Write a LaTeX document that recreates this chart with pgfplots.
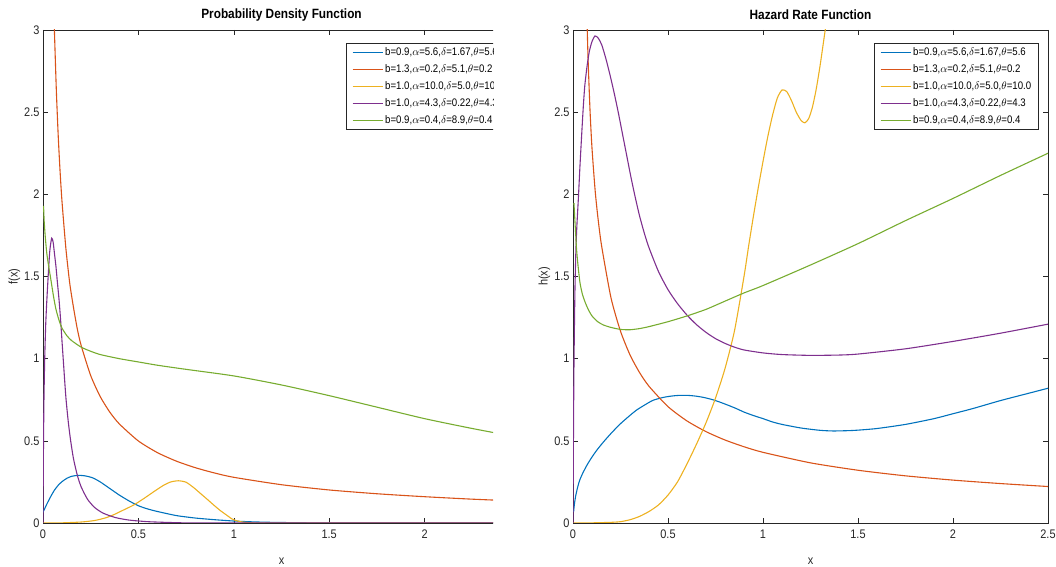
\documentclass[border=0pt]{standalone}
\usepackage{fontspec}
\setmainfont{Liberation Sans}[FakeStretch=0.88]
\usepackage{pgfplots}
\pgfplotsset{compat=1.18}

\definecolor{mblue}{rgb}{0,0.447,0.741}
\definecolor{morange}{rgb}{0.85,0.325,0.098}
\definecolor{myellow}{rgb}{0.929,0.694,0.125}
\definecolor{mpurple}{rgb}{0.494,0.184,0.556}
\definecolor{mgreen}{rgb}{0.466,0.674,0.188}
\definecolor{axgray}{rgb}{0.15,0.15,0.15}

\pgfplotsset{
  panel/.style={
    scale only axis, height=493bp,
    xmin=0, xmax=2.5, ymin=0, ymax=3,
    xtick={0,0.5,1,1.5,2,2.5}, xticklabels={0,0.5,1,1.5,2,2.5},
    ytick={0,0.5,1,1.5,2,2.5,3}, yticklabels={0,0.5,1,1.5,2,2.5,3},
    tick align=inside, major tick length=5bp,
    axis line style={axgray, line width=0.6pt},
    every tick/.style={axgray, line width=0.6pt},
    tick label style={font=\fontsize{12.5}{14}\selectfont, text=axgray},
    xticklabel style={yshift=-3bp},
    every axis title shift=0pt,
    title style={font=\bfseries\fontsize{13.5}{15}\selectfont, text=black,
                 at={(axis description cs:0.5,1.031)}, anchor=center},
    xlabel style={font=\fontsize{12.5}{14}\selectfont, text=axgray,
                  at={(axis description cs:0.5,-0.077)}, anchor=center},
    ylabel style={font=\fontsize{12.5}{14}\selectfont, text=axgray,
                  at={(axis description cs:-0.060,0.5)}, anchor=center},
    legend style={at={(0.981,0.9736)}, anchor=north east, draw=axgray,
                  line width=0.6pt, font=\fontsize{11}{13}\selectfont,
                  cells={anchor=west}, row sep=3.6pt, inner xsep=5.5pt, inner ysep=2.5pt},
    legend image code/.code={\draw[#1,line width=1.1pt] (0bp,0bp) -- (30bp,0bp);},
    every axis plot/.append style={line width=1.1pt, mark=none, smooth, tension=0.4},
  }
}

\begin{document}
\begin{tikzpicture}
\useasboundingbox (0,0) rectangle (1056bp,567bp);

% ---------- density ----------
\begin{scope}
\clip (0,0) rectangle (493bp,567bp);
\begin{axis}[panel, at={(43bp,44bp)}, anchor=south west, width=477bp,
  title={Probability Density Function}, xlabel={x}, ylabel={f(x)}]
\addplot[mblue] coordinates {
 (0,0.065) (0.01,0.09) (0.02,0.115) (0.04,0.16) (0.06,0.2) (0.08,0.23) (0.1,0.252)
 (0.125,0.272) (0.15,0.284) (0.185,0.29) (0.22,0.287) (0.26,0.275) (0.3,0.25)
 (0.35,0.21) (0.4,0.17) (0.45,0.135) (0.5,0.105) (0.55,0.085) (0.6,0.07) (0.7,0.045)
 (0.8,0.03) (0.9,0.02) (1.0,0.012) (1.1,0.007) (1.2,0.004) (1.4,0.001) (1.6,0) (2.5,0)};
\addlegendentry{b=0.9,$\alpha$=5.6,$\delta$=1.67,$\theta$=5.6}
\addplot[morange] coordinates {
 (0.058,3.08) (0.06,2.99) (0.07,2.63) (0.08,2.35) (0.09,2.13) (0.1,1.95) (0.12,1.67)
 (0.14,1.46) (0.16,1.31) (0.18,1.18) (0.2,1.08) (0.25,0.897) (0.3,0.769) (0.35,0.675)
 (0.4,0.603) (0.5,0.499) (0.6,0.428) (0.7,0.376) (0.8,0.336) (0.9,0.304) (1.0,0.278)
 (1.25,0.233) (1.5,0.201) (1.75,0.178) (2.0,0.16) (2.25,0.145) (2.5,0.133)};
\addlegendentry{b=1.3,$\alpha$=0.2,$\delta$=5.1,$\theta$=0.2}
\addplot[myellow] coordinates {
 (0,0) (0.1,0.001) (0.2,0.006) (0.27,0.015) (0.33,0.032) (0.37,0.05) (0.42,0.078)
 (0.476,0.11) (0.53,0.15) (0.58,0.19) (0.63,0.228) (0.67,0.25) (0.71,0.257) (0.75,0.248)
 (0.79,0.215) (0.825,0.18) (0.86,0.145) (0.894,0.11) (0.93,0.075) (0.96,0.05)
 (0.99,0.025) (1.01,0.015) (1.04,0.007) (1.07,0.003) (1.12,0.0005) (1.2,0) (2.5,0)};
\addlegendentry{b=1.0,$\alpha$=10.0,$\delta$=5.0,$\theta$=10.0}
\addplot[mpurple] coordinates {
 (0,0) (0.002,0.4) (0.005,0.75) (0.009,1.0) (0.014,1.2) (0.019,1.33) (0.028,1.52)
 (0.036,1.66) (0.0455,1.733) (0.053,1.71) (0.06,1.64) (0.068,1.56) (0.075,1.47)
 (0.084,1.36) (0.092,1.24) (0.1,1.1) (0.107,0.98) (0.114,0.86) (0.121,0.75)
 (0.133,0.61) (0.145,0.5) (0.16,0.39) (0.18,0.29) (0.2,0.22) (0.233,0.145)
 (0.27,0.095) (0.315,0.06) (0.38,0.033) (0.45,0.018) (0.55,0.008) (0.7,0.002)
 (0.9,0) (2.5,0)};
\addlegendentry{b=1.0,$\alpha$=4.3,$\delta$=0.22,$\theta$=4.3}
\addplot[mgreen] coordinates {
 (0.003,1.93) (0.006,1.84) (0.012,1.74) (0.02,1.64) (0.03,1.56) (0.04,1.49)
 (0.055,1.38) (0.068,1.30) (0.085,1.23) (0.1,1.185) (0.125,1.14) (0.15,1.11)
 (0.2,1.07) (0.25,1.045) (0.3,1.025) (0.4,1.0) (0.5,0.98) (0.6,0.96) (0.75,0.935)
 (1.0,0.895) (1.25,0.84) (1.5,0.775) (1.75,0.705) (2.0,0.635) (2.25,0.575) (2.5,0.52)};
\addlegendentry{b=0.9,$\alpha$=0.4,$\delta$=8.9,$\theta$=0.4}
\end{axis}
\end{scope}

% ---------- hazard rate ----------
\begin{axis}[panel, at={(573bp,44bp)}, anchor=south west, width=475bp,
  title={Hazard Rate Function}, xlabel={x}, ylabel={h(x)}]
\addplot[mblue] coordinates {
 (0.003,0.067) (0.008,0.12) (0.015,0.17) (0.025,0.22) (0.035,0.26) (0.05,0.3)
 (0.07,0.345) (0.088,0.38) (0.12,0.435) (0.158,0.49) (0.2,0.545) (0.246,0.6)
 (0.29,0.645) (0.333,0.686) (0.38,0.72) (0.42,0.746) (0.47,0.763) (0.509,0.771)
 (0.55,0.776) (0.596,0.777) (0.64,0.773) (0.684,0.765) (0.73,0.752) (0.772,0.736)
 (0.82,0.715) (0.86,0.696) (0.9,0.675) (0.947,0.655) (1.0,0.635) (1.05,0.615)
 (1.1,0.6) (1.2,0.578) (1.3,0.564) (1.37,0.56) (1.45,0.562) (1.5,0.565) (1.6,0.575)
 (1.75,0.6) (1.9,0.635) (2.0,0.665) (2.1,0.695) (2.25,0.745) (2.4,0.79) (2.5,0.82)};
\addlegendentry{b=0.9,$\alpha$=5.6,$\delta$=1.67,$\theta$=5.6}
\addplot[morange] coordinates {
 (0.073,3.08) (0.075,3.0) (0.08,2.8) (0.09,2.5) (0.1,2.28) (0.116,2.03) (0.13,1.87)
 (0.15,1.69) (0.2,1.37) (0.25,1.167) (0.3,1.023) (0.35,0.916) (0.4,0.832) (0.5,0.708)
 (0.6,0.621) (0.7,0.556) (0.8,0.505) (0.9,0.464) (1.0,0.43) (1.25,0.366) (1.5,0.321)
 (1.75,0.287) (2.0,0.261) (2.25,0.24) (2.5,0.222)};
\addlegendentry{b=1.3,$\alpha$=0.2,$\delta$=5.1,$\theta$=0.2}
\addplot[myellow] coordinates {
 (0,0) (0.1,0.001) (0.2,0.004) (0.25,0.008) (0.3,0.02) (0.35,0.04) (0.4,0.07)
 (0.45,0.11) (0.5,0.17) (0.55,0.25) (0.6,0.36) (0.65,0.48) (0.7,0.61) (0.75,0.76)
 (0.8,0.94) (0.85,1.17) (0.9,1.50) (0.925,1.69) (0.95,1.87) (0.975,2.04) (1.0,2.20)
 (1.025,2.35) (1.05,2.48) (1.075,2.585) (1.1,2.635) (1.125,2.625) (1.15,2.57)
 (1.175,2.50) (1.2,2.45) (1.22,2.435) (1.24,2.46) (1.26,2.53) (1.28,2.64)
 (1.3,2.78) (1.32,2.94) (1.34,3.1)};
\addlegendentry{b=1.0,$\alpha$=10.0,$\delta$=5.0,$\theta$=10.0}
\addplot[mpurple] coordinates {
 (0,0) (0.002,0.45) (0.005,0.95) (0.01,1.4) (0.015,1.65) (0.02,1.8) (0.028,1.97)
 (0.037,2.18) (0.046,2.37) (0.054,2.53) (0.062,2.66) (0.074,2.78) (0.086,2.87)
 (0.1,2.93) (0.116,2.964) (0.133,2.95) (0.151,2.91) (0.172,2.83) (0.194,2.73)
 (0.216,2.62) (0.238,2.5) (0.26,2.37) (0.282,2.24) (0.304,2.11) (0.326,1.99)
 (0.35,1.87) (0.375,1.765) (0.4,1.675) (0.45,1.53) (0.5,1.42) (0.55,1.335) (0.6,1.265)
 (0.65,1.207) (0.7,1.16) (0.75,1.122) (0.8,1.093) (0.85,1.07) (0.9,1.053) (1.0,1.035)
 (1.1,1.025) (1.25,1.02) (1.4,1.022) (1.5,1.028) (1.75,1.06) (2.0,1.105)
 (2.25,1.155) (2.5,1.21)};
\addlegendentry{b=1.0,$\alpha$=4.3,$\delta$=0.22,$\theta$=4.3}
\addplot[mgreen] coordinates {
 (0.005,1.946) (0.01,1.84) (0.015,1.74) (0.019,1.66) (0.027,1.56) (0.037,1.46)
 (0.05,1.39) (0.065,1.34) (0.08,1.30) (0.1,1.26) (0.13,1.225) (0.16,1.205)
 (0.2,1.19) (0.25,1.178) (0.3,1.176) (0.35,1.183) (0.4,1.195) (0.5,1.225) (0.6,1.26)
 (0.7,1.30) (0.8,1.35) (0.9,1.40) (1.0,1.445) (1.25,1.57) (1.5,1.70) (1.75,1.84)
 (2.0,1.975) (2.25,2.115) (2.5,2.25)};
\addlegendentry{b=0.9,$\alpha$=0.4,$\delta$=8.9,$\theta$=0.4}
\end{axis}
\end{tikzpicture}
\end{document}
